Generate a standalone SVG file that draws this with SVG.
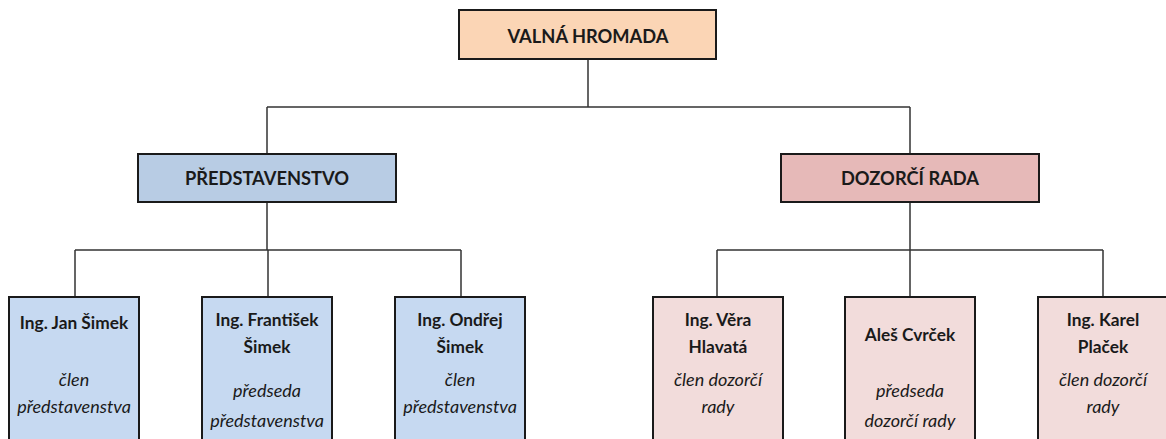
<svg xmlns="http://www.w3.org/2000/svg" width="1166" height="439" viewBox="0 0 1166 439">
<style>
.box{stroke:#1a1a1a;stroke-width:2}
.top{fill:#fbd5b5}
.b1{fill:#b8cce4}
.r1{fill:#e6b9b8}
.b2{fill:#c6d9f1}
.r2{fill:#f2dcdb}
.t{font-family:Lato,"Open Sans",sans-serif;font-weight:bold;font-size:18.3px;fill:#1a1a1a;text-anchor:middle}
.n{font-family:Lato,"Open Sans",sans-serif;font-weight:bold;font-size:17.3px;fill:#1a1a1a;text-anchor:middle}
.i{font-family:Lato,"Open Sans",sans-serif;font-style:italic;font-size:18px;fill:#1a1a1a;text-anchor:middle}
.c{fill:none;stroke:#333;stroke-width:1.5}
</style>
<rect width="1166" height="439" fill="#fff"/>
<g id="connectors">
<path class="c" d="M588 59V107M267 107H910M267 107V154M910 107V154"/>
<path class="c" d="M267 202V250M75 250H461M75 250V297M268 250V297M461 250V297"/>
<path class="c" d="M910 202V250M717 250H1103M717 250V297M910 250V297M1103 250V297"/>
</g>
<g id="valna-hromada">
<rect class="box top" x="459" y="10" width="257" height="49"/>
<text class="t" x="588" y="43">VALNÁ HROMADA</text>
</g>
<g id="predstavenstvo">
<rect class="box b1" x="138" y="154" width="258" height="48"/>
<text class="t" x="267" y="185">PŘEDSTAVENSTVO</text>
</g>
<g id="dozorci-rada">
<rect class="box r1" x="781" y="154" width="258" height="48"/>
<text class="t" x="910" y="185">DOZORČÍ RADA</text>
</g>
<g id="jan-simek">
<rect class="box b2" x="9" y="297" width="130" height="150"/>
<text class="n" x="74" y="329">Ing. Jan Šimek</text>
<text class="i" x="74" y="386">člen</text>
<text class="i" x="74" y="413">představenstva</text>
</g>
<g id="frantisek-simek">
<rect class="box b2" x="202" y="297" width="130" height="150"/>
<text class="n" x="267" y="326">Ing. František</text>
<text class="n" x="267" y="353">Šimek</text>
<text class="i" x="267" y="397">předseda</text>
<text class="i" x="267" y="427">představenstva</text>
</g>
<g id="ondrej-simek">
<rect class="box b2" x="395" y="297" width="130" height="150"/>
<text class="n" x="460" y="326">Ing. Ondřej</text>
<text class="n" x="460" y="353">Šimek</text>
<text class="i" x="460" y="386">člen</text>
<text class="i" x="460" y="413">představenstva</text>
</g>
<g id="vera-hlavata">
<rect class="box r2" x="653" y="297" width="130" height="150"/>
<text class="n" x="718" y="326">Ing. Věra</text>
<text class="n" x="718" y="353">Hlavatá</text>
<text class="i" x="718" y="386">člen dozorčí</text>
<text class="i" x="718" y="413">rady</text>
</g>
<g id="ales-cvrcek">
<rect class="box r2" x="845" y="297" width="130" height="150"/>
<text class="n" x="910" y="341">Aleš Cvrček</text>
<text class="i" x="910" y="397">předseda</text>
<text class="i" x="910" y="427">dozorčí rady</text>
</g>
<g id="karel-placek">
<rect class="box r2" x="1038" y="297" width="130" height="150"/>
<text class="n" x="1103" y="326">Ing. Karel</text>
<text class="n" x="1103" y="353">Plaček</text>
<text class="i" x="1103" y="386">člen dozorčí</text>
<text class="i" x="1103" y="413">rady</text>
</g>
</svg>
